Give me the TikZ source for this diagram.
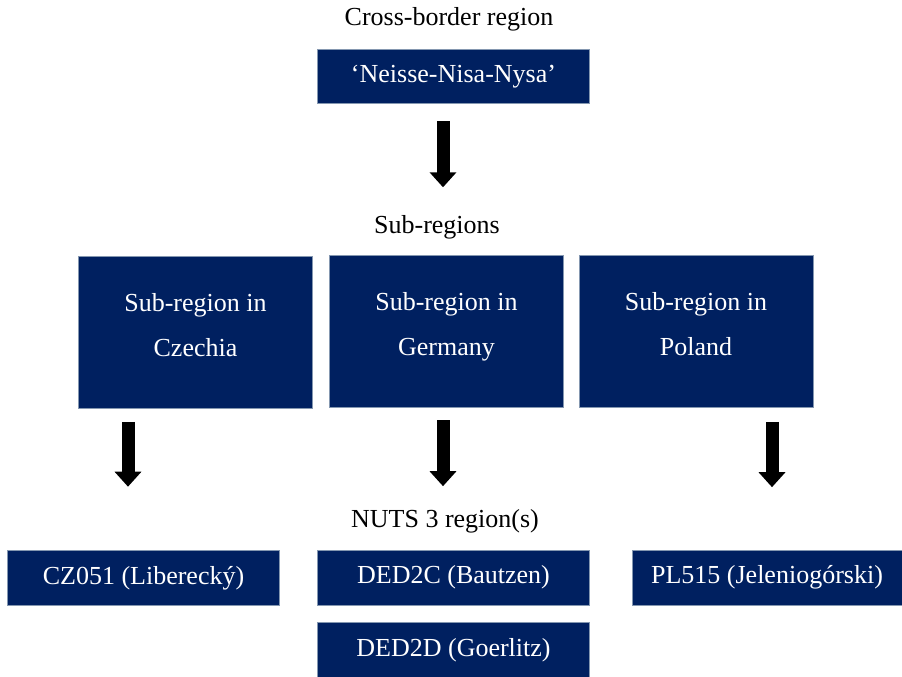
\documentclass[tikz,border=0pt]{standalone}
\usepackage{fontspec}
\setmainfont{Liberation Serif}
\usetikzlibrary{arrows.meta, positioning}
\definecolor{regionnavy}{RGB}{0,32,96}
\definecolor{edgeblue}{RGB}{132,151,176}

\begin{document}
\begin{tikzpicture}[
    x=1pt, y=-1pt,
    every node/.style={font=\fontsize{26}{45}\selectfont},
    regionbox/.style={fill=regionnavy, draw=edgeblue, line width=0.6pt, text=white, inner sep=0pt, align=center},
    subbox/.style={regionbox, minimum width=234pt, minimum height=152pt, text height=48.4pt, text depth=0pt},
    levelhead/.style={inner sep=0pt, anchor=base},
    downarrow/.style={line width=13pt, -{Triangle[width=26pt, length=15pt]}}
]
    \useasboundingbox (0,0) rectangle (902,677);

    % headings
    \node[levelhead] (crosshdr) at (449,26) {Cross-border region};
    \node[levelhead] (subhdr) at (437,233) {Sub-regions};
    \node[levelhead] (nutshdr) at (445,527) {NUTS 3 region(s)};

    % cross-border region
    \node[regionbox, minimum width=272pt, minimum height=54pt] (neisse) at (453.5,76.5) {‘Neisse-Nisa-Nysa’};

    % sub-regions
    \node[subbox] (czsub) at (195.5,332.5) {Sub-region in\\Czechia};
    \node[subbox] (desub) at (446.5,331.5) {Sub-region in\\Germany};
    \node[subbox] (plsub) at (696,331.5) {Sub-region in\\Poland};

    % NUTS 3 regions
    \node[regionbox, minimum width=272pt, minimum height=55pt] (cz) at (143.5,578) {CZ051 (Libereck\'y)};
    \node[regionbox, minimum width=272pt, minimum height=55pt] (ded2c) at (453.5,577.5) {DED2C (Bautzen)};
    \node[regionbox, minimum width=272pt, minimum height=55pt] (ded2d) at (453.5,650) {DED2D (Goerlitz)};
    \node[regionbox, minimum width=270pt, minimum height=55pt] (pl) at (767,577.5) {PL515 (Jeleniog\'orski)};

    % arrows
    \draw[downarrow] ([xshift=-10.5pt,yshift=-17.5pt]neisse.south) -- ([xshift=-10.5pt,yshift=-83.5pt]neisse.south);
    \draw[downarrow] ([xshift=-67.5pt,yshift=-13pt]czsub.south) -- ([xshift=-15.5pt,yshift=63.5pt]cz.north);
    \draw[downarrow] ([xshift=-3.5pt,yshift=-12.5pt]desub.south) -- ([xshift=-10.5pt,yshift=63.5pt]ded2c.north);
    \draw[downarrow] ([xshift=76pt,yshift=-14pt]plsub.south) -- ([xshift=5pt,yshift=62.5pt]pl.north);
\end{tikzpicture}
\end{document}
